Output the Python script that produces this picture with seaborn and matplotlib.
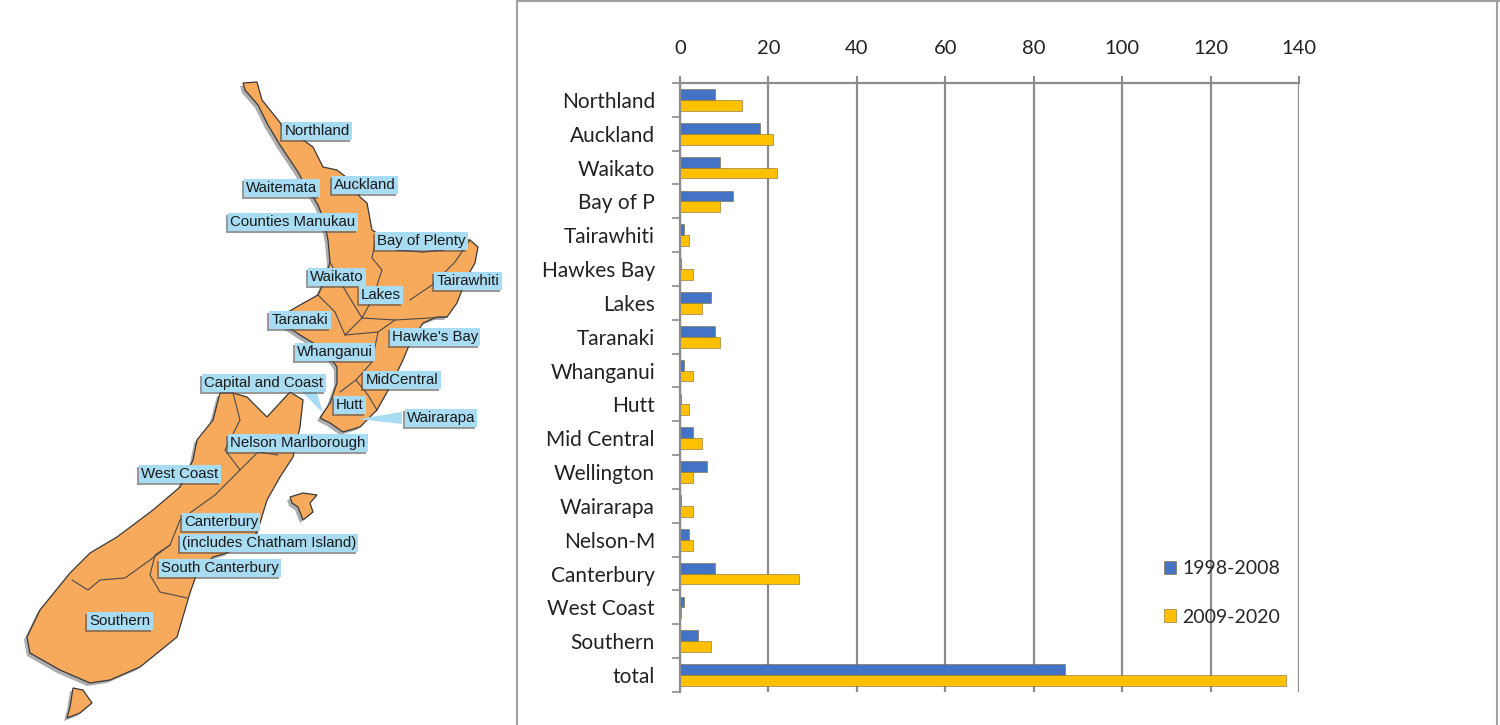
import numpy as np
import pandas as pd
import seaborn as sns
import matplotlib.pyplot as plt
from matplotlib.patches import Polygon
from matplotlib.lines import Line2D

# data
regions = ['Northland', 'Auckland', 'Waikato', 'Bay of P', 'Tairawhiti', 'Hawkes Bay',
           'Lakes', 'Taranaki', 'Whanganui', 'Hutt', 'Mid Central', 'Wellington',
           'Wairarapa', 'Nelson-M', 'Canterbury', 'West Coast', 'Southern', 'total']
vals_1998 = [8, 18, 9, 12, 1, 0.3, 7, 8, 1, 0.3, 3, 6, 0.3, 2, 8, 1, 4, 87]
vals_2009 = [14, 21, 22, 9, 2, 3, 5, 9, 3, 2, 5, 3, 3, 3, 27, 0.3, 7, 137]
periods = ['1998-2008', '2009-2020']
x_ticks = [0, 20, 40, 60, 80, 100, 120, 140]

# map labels (DHB names) shown on the left picture
map_labels = ['Northland', 'Waitemata', 'Auckland', 'Counties Manukau', 'Bay of Plenty',
              'Waikato', 'Tairawhiti', 'Lakes', 'Taranaki', "Hawke's Bay", 'Whanganui',
              'Capital and Coast', 'MidCentral', 'Hutt', 'Wairarapa', 'Nelson Marlborough',
              'West Coast', 'Canterbury', '(includes Chatham Island)', 'South Canterbury',
              'Southern']
map_label_xy = [(317, 131), (282, 188), (365, 185), (293, 222), (421, 241),
                (337, 277), (468, 281), (381, 295), (300, 320), (435, 337), (335, 352),
                (264, 383), (402, 380), (350, 405), (441, 418), (298, 443),
                (180, 474), (221, 522), (269, 543), (220, 568), (120, 621)]

# rough outline of the islands, in pixels of the left panel
north_island = [(243, 83), (257, 82), (262, 100), (270, 110), (282, 125), (313, 147),
                (323, 167), (337, 170), (350, 180), (360, 197), (367, 203), (372, 230),
                (377, 233), (397, 250), (423, 252), (443, 250), (457, 240), (470, 240),
                (478, 247), (475, 263), (467, 277), (457, 303), (447, 317), (437, 317),
                (423, 323), (410, 343), (403, 360), (390, 387), (377, 410), (360, 427),
                (343, 432), (330, 423), (320, 418), (330, 403), (337, 383), (337, 367),
                (325, 350), (300, 335), (285, 325), (288, 312), (300, 305), (318, 295),
                (325, 280), (330, 262), (328, 240), (325, 225), (322, 215), (318, 205),
                (312, 195), (305, 185), (298, 172), (290, 160), (280, 145), (268, 125),
                (258, 105), (245, 90)]
south_island = [(220, 393), (233, 393), (247, 397), (267, 417), (290, 392), (303, 400),
                (300, 427), (293, 457), (280, 477), (267, 500), (257, 533), (227, 553),
                (213, 557), (197, 573), (190, 593), (177, 637), (140, 667), (110, 680),
                (90, 683), (60, 670), (30, 653), (27, 637), (40, 610), (70, 573),
                (90, 553), (117, 537), (153, 510), (180, 487), (193, 460), (197, 440),
                (213, 420)]
stewart_island = [(73, 688), (83, 690), (92, 703), (80, 713), (67, 718), (70, 707)]
chatham_island = [(290, 497), (303, 493), (317, 495), (310, 503), (313, 512),
                  (303, 520), (298, 507), (292, 503)]

# a few of the district borders drawn inside the islands
borders = [
    [(377, 233), (372, 258), (382, 270), (373, 298), (362, 318)],
    [(330, 262), (345, 290), (362, 318), (395, 320), (447, 317)],
    [(410, 300), (432, 285), (455, 262), (470, 240)],
    [(318, 295), (335, 312), (345, 335), (362, 318)],
    [(345, 335), (378, 332), (395, 320)],
    [(378, 332), (372, 362), (356, 380), (340, 392)],
    [(356, 380), (368, 395), (377, 410)],
    [(233, 393), (240, 420), (225, 450), (240, 470), (258, 452), (278, 455)],
    [(240, 470), (215, 495), (180, 520), (170, 545), (150, 560), (125, 578),
     (100, 580), (88, 590), (72, 580)],
    [(170, 545), (155, 555), (150, 575), (160, 592), (187, 598)],
]

blue = '#4472c4'
yellow = '#ffc000'

df = pd.DataFrame({
    'region': regions * 2,
    'value': vals_1998 + vals_2009,
    'period': [periods[0]] * len(regions) + [periods[1]] * len(regions),
})

sns.set_theme(style='white')
plt.rcParams['font.family'] = ['Lato', 'DejaVu Sans']

W, H = 1500, 725
fig = plt.figure(figsize=(15, 7.25), dpi=100)

# ---- left: map picture ----
axm = fig.add_axes([0, 0, 517 / W, 1])
axm.set_xlim(0, 517)
axm.set_ylim(H, 0)
axm.axis('off')
for shape in [north_island, south_island, stewart_island, chatham_island]:
    pts = np.array(shape, dtype=float)
    axm.add_patch(Polygon(pts + [-3, 3], closed=True, fc='#6b6b6b', ec='none', alpha=0.55))
    axm.add_patch(Polygon(pts, closed=True, fc='#f7a95c', ec='#3a3a3a', lw=0.9))
for line in borders:
    pts = np.array(line, dtype=float)
    axm.plot(pts[:, 0], pts[:, 1], color='#4a4a4a', lw=0.8)

# callout pointers (Capital and Coast, Wairarapa)
axm.add_patch(Polygon([(300, 390), (316, 390), (323, 413)], closed=True, fc='#a8dcf2', ec='none'))
axm.add_patch(Polygon([(402, 412), (402, 424), (358, 419)], closed=True, fc='#a8dcf2', ec='none'))

for name, (lx, ly) in zip(map_labels, map_label_xy):
    axm.text(lx - 2, ly + 2, name, ha='center', va='center', fontsize=10.8,
             family='Liberation Sans', color='none',
             bbox=dict(boxstyle='square,pad=0.15', fc='#555555', ec='none', alpha=0.6))
    axm.text(lx, ly, name, ha='center', va='center', fontsize=10.8,
             family='Liberation Sans', color='#1a1a1a',
             bbox=dict(boxstyle='square,pad=0.15', fc='#a8dcf2', ec='none'))

# ---- right: bar chart ----
ax = fig.add_axes([680 / W, 1 - 692 / H, (1299 - 680) / W, (692 - 83) / H])
sns.barplot(data=df, y='region', x='value', hue='period', orient='h',
            palette=[blue, yellow], width=0.64, saturation=1, ax=ax,
            edgecolor='#7a6a30', linewidth=0.4)

ax.set_xlim(0, 140)
ax.set_ylim(len(regions) - 0.5, -0.5)
ax.set_xlabel('')
ax.set_ylabel('')
ax.xaxis.tick_top()
ax.set_xticks(x_ticks)
ax.set_xticklabels([str(t) for t in x_ticks], fontsize=14.5, color='#222222')
ax.tick_params(axis='x', top=True, length=5, width=1.5, color='#8c8c8c', pad=13.5)
ax.tick_params(axis='y', length=0, pad=18, labelsize=15, labelcolor='#222222')
ax.set_yticks(np.arange(-0.5, len(regions), 1.0), minor=True)
ax.tick_params(axis='y', which='minor', left=True, length=6, width=1.2, color='#8c8c8c')
ax.grid(axis='x', color='#8c8c8c', lw=1.6)
ax.set_axisbelow(True)
for side in ['left', 'top']:
    ax.spines[side].set_color('#8c8c8c')
    ax.spines[side].set_linewidth(1.6)
ax.spines['right'].set_visible(False)
ax.spines['bottom'].set_visible(False)

handles, labels = ax.get_legend_handles_labels()
ax.legend(handles, labels, loc='center left', bbox_to_anchor=(1146 / W, 1 - 593 / H),
          bbox_transform=fig.transFigure, frameon=False, fontsize=14,
          handlelength=0.65, handleheight=0.65, handletextpad=0.3, labelspacing=1.6)

# frame around the chart panel
frame = dict(color='#a0a0a0', lw=1.5, transform=fig.transFigure)
fig.add_artist(Line2D([517 / W, 517 / W], [0, 1], **frame))
fig.add_artist(Line2D([517 / W, 1], [1 - 1 / H, 1 - 1 / H], **frame))
fig.add_artist(Line2D([1497 / W, 1497 / W], [0, 1], **frame))

fig.savefig('out.png', dpi=100)
